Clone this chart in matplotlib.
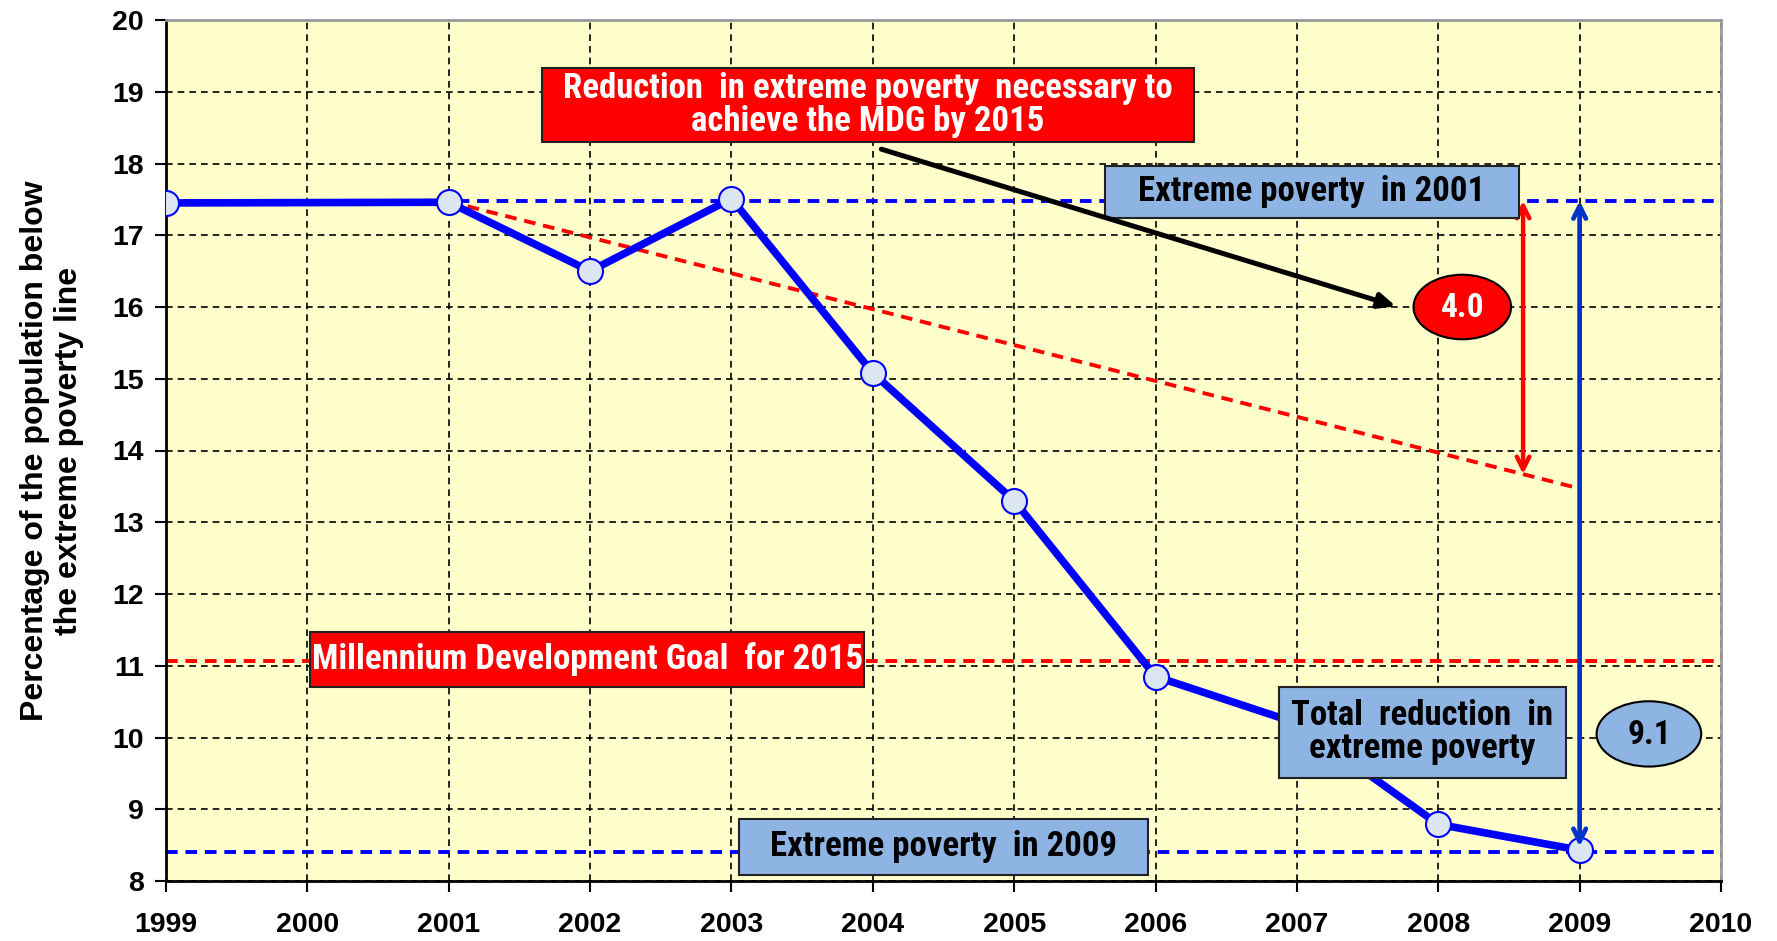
import numpy as np
import matplotlib
matplotlib.use("Agg")
import matplotlib.pyplot as plt
from matplotlib.patches import Rectangle, Ellipse

# data
years = [1999, 2001, 2002, 2003, 2004, 2005, 2006, 2007, 2008, 2009]
poverty = [17.45, 17.46, 16.50, 17.51, 15.08, 13.30, 10.85, 10.20, 8.79, 8.43]
poverty_2001 = 17.48
poverty_2009 = 8.40
mdg_goal = 11.07
mdg_path_years = [2001, 2009]
mdg_path_values = [17.47, 13.47]
needed_reduction = "4.0"
total_reduction = "9.1"
x_ticks = list(range(1999, 2011))
y_ticks = list(range(8, 21))

narrow = ["Roboto Condensed", "PT Sans Narrow", "DejaVu Sans"]
plt.rcParams["font.family"] = ["Liberation Sans", "DejaVu Sans"]

fig = plt.figure(figsize=(17.77, 9.41), dpi=100)
ax = fig.add_axes([166 / 1777, 1 - 881 / 941, (1721 - 166) / 1777, (881 - 20) / 941])
ax.set_facecolor("#FFFFCC")
ax.set_xlim(1999, 2010)
ax.set_ylim(8, 20)
ax.set_xticks(x_ticks)
ax.set_yticks(y_ticks)
ax.tick_params(labelsize=20.5, length=8, width=1.5, color="black")
for lab in ax.get_xticklabels() + ax.get_yticklabels():
    lab.set_fontweight("bold")
ax.tick_params(axis="x", pad=14)
ax.tick_params(axis="y", pad=8)
ax.grid(True, color="black", linestyle=(0, (4, 3)), linewidth=1.2, zorder=1)
ax.set_axisbelow(True)
ax.spines["left"].set_linewidth(2)
ax.spines["bottom"].set_linewidth(2)
for side in ("top", "right"):
    ax.spines[side].set_color("#999999")
    ax.spines[side].set_linewidth(2)
ax.set_ylabel("Percentage of the population below\nthe extreme poverty line",
              fontsize=23, fontweight="bold", labelpad=20, linespacing=1.2)

# reference lines
ax.axhline(poverty_2001, color="#0000FF", linestyle=(0, (3, 2)), lw=2.8, zorder=2)
ax.axhline(poverty_2009, color="#0000FF", linestyle=(0, (3, 2)), lw=2.8, zorder=2)
ax.axhline(mdg_goal, color="#FF0000", linestyle=(0, (3, 2)), lw=2.8, zorder=2)
ax.plot(mdg_path_years, mdg_path_values, color="#FF0000",
        linestyle=(0, (3, 2)), lw=2.8, zorder=2)

# main series
ax.plot(years, poverty, color="#0000FF", lw=5.5, marker="o", ms=18,
        mfc="#DCE6F2", mec="#0000FF", mew=1.5, zorder=4)

# double arrows
x_red = 2008.6
ax.annotate("", xy=(x_red, poverty_2001),
            xytext=(x_red, np.interp(x_red, mdg_path_years, mdg_path_values)),
            arrowprops=dict(arrowstyle="<->,head_length=0.9,head_width=0.45",
                            color="#FF0000", lw=3.2, shrinkA=0, shrinkB=0), zorder=5)
ax.annotate("", xy=(years[-1], poverty_2001), xytext=(years[-1], poverty[-1] + 0.05),
            arrowprops=dict(arrowstyle="<->,head_length=0.9,head_width=0.45",
                            color="#0033CC", lw=3.4, shrinkA=0, shrinkB=0), zorder=5)


def box(x0, x1, y0, y1, text, fc, tc, size=25):
    ax.add_patch(Rectangle((x0, y0), x1 - x0, y1 - y0, facecolor=fc,
                           edgecolor="#222222", lw=1.5, zorder=6))
    ax.text((x0 + x1) / 2, (y0 + y1) / 2, text, ha="center", va="center",
            color=tc, fontsize=size, fontweight="bold", family=narrow,
            linespacing=1.0, zorder=7)


box(2001.66, 2006.27, 18.30, 19.33,
    "Reduction  in extreme poverty  necessary to\nachieve the MDG by 2015", "#FF0000", "white")
box(2005.64, 2008.57, 17.24, 17.97, "Extreme poverty  in 2001", "#8EB4E3", "black")
box(2000.02, 2003.94, 10.71, 11.47, "Millennium Development Goal  for 2015", "#FF0000", "white")
box(2003.05, 2005.95, 8.08, 8.87, "Extreme poverty  in 2009", "#8EB4E3", "black")
box(2006.87, 2008.90, 9.44, 10.71, "Total  reduction  in\nextreme poverty", "#8EB4E3", "black")

# black pointer arrow
ax.annotate("", xy=(2007.70, 16.01), xytext=(2004.06, 18.2),
            arrowprops=dict(arrowstyle="-|>,head_length=1.0,head_width=0.45",
                            color="black", lw=3.6, shrinkA=0, shrinkB=0), zorder=8)

# value ellipses
ax.add_patch(Ellipse((2008.17, 16.0), 0.69, 0.9, facecolor="#FF0000",
                     edgecolor="black", lw=1.5, zorder=6))
ax.text(2008.17, 15.98, needed_reduction, ha="center", va="center", color="white",
        fontsize=24, fontweight="bold", family=narrow, zorder=7)
ax.add_patch(Ellipse((2009.49, 10.05), 0.74, 0.91, facecolor="#8EB4E3",
                     edgecolor="black", lw=1.5, zorder=6))
ax.text(2009.49, 10.03, total_reduction, ha="center", va="center", color="black",
        fontsize=24, fontweight="bold", family=narrow, zorder=7)

fig.savefig("out.png", dpi=100, facecolor="white")
